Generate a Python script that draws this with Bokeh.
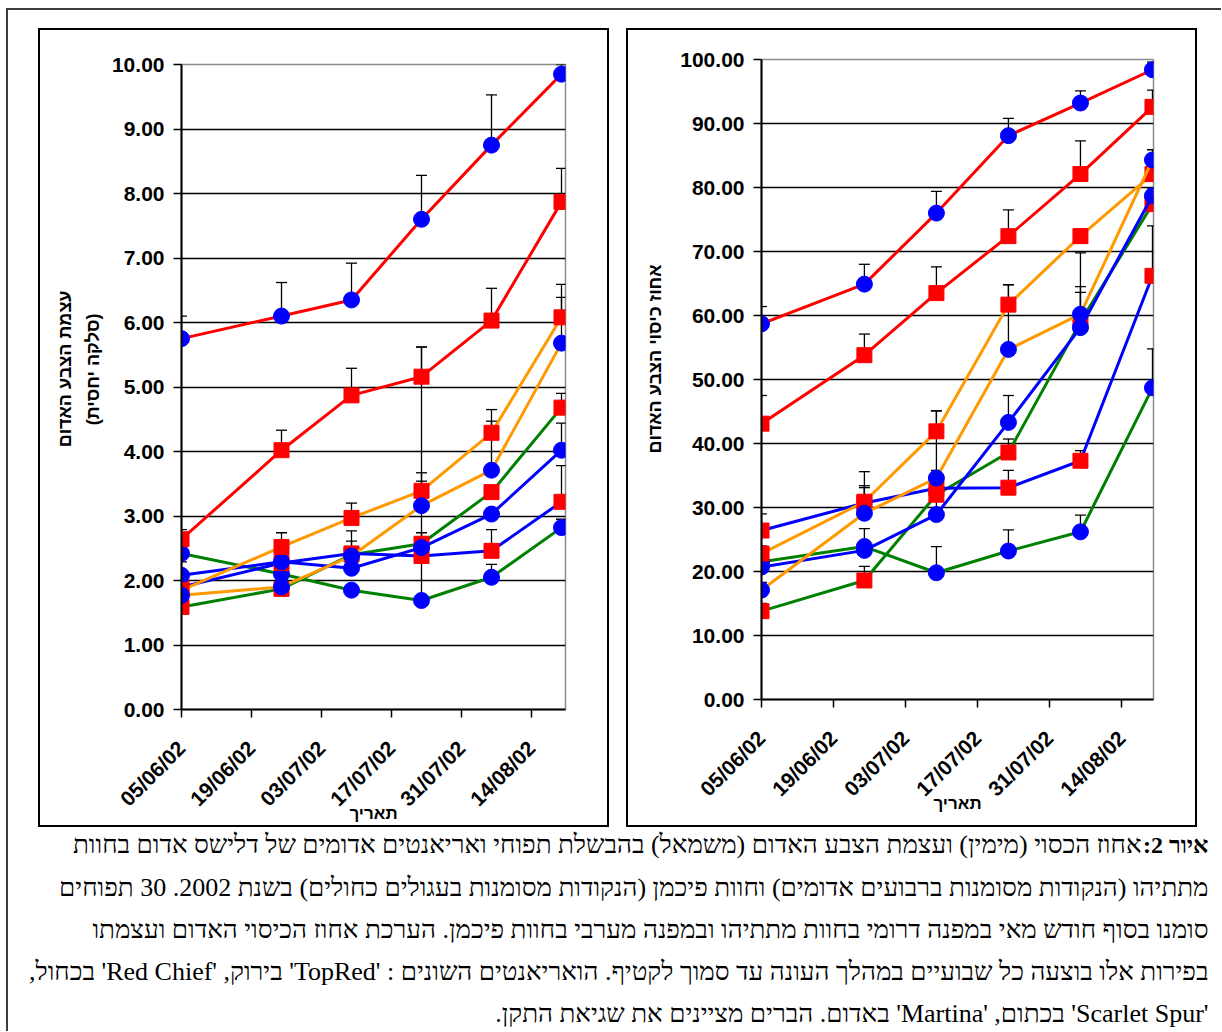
import math
from datetime import datetime, timedelta

from bokeh.plotting import figure
from bokeh.models import (Range1d, FixedTicker, PrintfTickFormatter, DatetimeTickFormatter,
                          Whisker, TeeHead, ColumnDataSource, Title)
from bokeh.layouts import column, row
from bokeh.embed import file_html
from bokeh.resources import INLINE
from bokeh.core.properties import value

# ---------------- data ----------------
sample_dates = ["2002-06-05", "2002-06-25", "2002-07-09", "2002-07-23", "2002-08-06", "2002-08-20"]
tick_dates = ["2002-06-05", "2002-06-19", "2002-07-03", "2002-07-17", "2002-07-31", "2002-08-14"]

variety_names = ["TopRed", "Red Chief", "Scarlet Spur", "Martina"]
variety_colors = ["#008000", "#0000FF", "#FF9900", "#FF0000"]
orchard_names = ["Matityahu", "Fichman"]
orchard_markers = ["square", "circle"]
orchard_marker_colors = ["#FF0000", "#0000FF"]

# red colour intensity (left chart), relative to beet
intensity_topred_matityahu = [1.59, 1.87, 2.40, 2.57, 3.37, 4.68]
intensity_topred_matityahu_se = [0.08, 0.08, 0.08, 0.17, 0.10, 0.22]
intensity_topred_fichman = [2.42, 2.10, 1.85, 1.69, 2.05, 2.82]
intensity_topred_fichman_se = [0.08, 0.08, 0.08, 3.93, 0.20, 0.13]
intensity_redchief_matityahu = [1.90, 2.27, 2.42, 2.38, 2.46, 3.22]
intensity_redchief_matityahu_se = [0.08, 0.08, 0.19, 0.08, 0.33, 0.56]
intensity_redchief_fichman = [2.08, 2.29, 2.19, 2.51, 3.03, 4.02]
intensity_redchief_fichman_se = [0.21, 0.08, 0.08, 0.09, 0.09, 0.42]
intensity_scarlet_matityahu = [1.85, 2.52, 2.97, 3.39, 4.29, 6.08]
intensity_scarlet_matityahu_se = [0.10, 0.22, 0.23, 0.28, 0.36, 0.51]
intensity_scarlet_fichman = [1.77, 1.90, 2.38, 3.16, 3.71, 5.68]
intensity_scarlet_fichman_se = [0.08, 0.08, 0.39, 0.38, 0.76, 0.71]
intensity_martina_matityahu = [2.64, 4.02, 4.87, 5.16, 6.03, 7.87]
intensity_martina_matityahu_se = [0.15, 0.31, 0.42, 0.46, 0.50, 0.52]
intensity_martina_fichman = [5.75, 6.10, 6.35, 7.60, 8.75, 9.85]
intensity_martina_fichman_se = [0.35, 0.52, 0.57, 0.68, 0.78, 0.15]

# red cover percentage (right chart)
cover_topred_matityahu = [13.8, 18.6, 32.0, 38.6, 59.0, 77.4]
cover_topred_matityahu_se = [1.2, 2.2, 1.2, 2.1, 4.6, 1.2]
cover_topred_fichman = [21.5, 23.9, 19.8, 23.2, 26.2, 48.7]
cover_topred_fichman_se = [2.0, 2.8, 4.1, 3.3, 2.6, 6.1]
cover_redchief_matityahu = [26.4, 30.7, 33.0, 33.1, 37.3, 66.2]
cover_redchief_matityahu_se = [2.6, 2.7, 1.2, 2.7, 1.6, 7.8]
cover_redchief_fichman = [20.7, 23.3, 28.9, 43.3, 58.1, 78.7]
cover_redchief_fichman_se = [1.3, 1.2, 16.2, 4.2, 6.4, 1.2]
cover_scarlet_matityahu = [22.8, 30.9, 41.9, 61.7, 72.4, 82.1]
cover_scarlet_matityahu_se = [1.2, 4.7, 3.2, 3.1, 1.1, 1.2]
cover_scarlet_fichman = [17.1, 29.1, 34.6, 54.7, 60.2, 84.3]
cover_scarlet_fichman_se = [1.2, 4.0, 1.2, 10.1, 9.6, 1.6]
cover_martina_matityahu = [43.1, 53.8, 63.5, 72.4, 82.1, 92.6]
cover_martina_matityahu_se = [4.4, 3.3, 4.1, 4.1, 5.2, 2.6]
cover_martina_fichman = [58.7, 64.9, 76.0, 88.1, 93.2, 98.4]
cover_martina_fichman_se = [2.7, 3.1, 3.4, 2.7, 1.9, 1.2]

intensity_ticks = [0, 1, 2, 3, 4, 5, 6, 7, 8, 9, 10]
cover_ticks = [0, 10, 20, 30, 40, 50, 60, 70, 80, 90, 100]

intensity_label_lines = ["עצמת הצבע האדום", "(סלקה יחסית)"]
cover_label_lines = ["אחוז כיסוי הצבע האדום"]
date_label = "תאריך"

caption_bold = "איור 2:"
caption_lines = [
    "אחוז הכסוי (מימין) ועצמת הצבע האדום (משמאל) בהבשלת תפוחי ואריאנטים אדומים של דלישס אדום בחוות",
    "מתתיהו (הנקודות מסומנות ברבועים אדומים) וחוות פיכמן (הנקודות מסומנות בעגולים כחולים) בשנת 2002. 30 תפוחים",
    "סומנו בסוף חודש מאי במפנה דרומי בחוות מתתיהו ובמפנה מערבי בחוות פיכמן. הערכת אחוז הכיסוי האדום ועצמתו",
    "בפירות אלו בוצעה כל שבועיים במהלך העונה עד סמוך לקטיף. הואריאנטים השונים : 'TopRed' בירוק, 'Red Chief' בכחול,",
    "'Scarlet Spur' בכתום, 'Martina' באדום. הברים מציינים את שגיאת התקן.",
]

intensity_series = [
    (0, 0, intensity_topred_matityahu, intensity_topred_matityahu_se),
    (0, 1, intensity_topred_fichman, intensity_topred_fichman_se),
    (1, 0, intensity_redchief_matityahu, intensity_redchief_matityahu_se),
    (1, 1, intensity_redchief_fichman, intensity_redchief_fichman_se),
    (2, 0, intensity_scarlet_matityahu, intensity_scarlet_matityahu_se),
    (2, 1, intensity_scarlet_fichman, intensity_scarlet_fichman_se),
    (3, 0, intensity_martina_matityahu, intensity_martina_matityahu_se),
    (3, 1, intensity_martina_fichman, intensity_martina_fichman_se),
]
cover_series = [
    (0, 0, cover_topred_matityahu, cover_topred_matityahu_se),
    (0, 1, cover_topred_fichman, cover_topred_fichman_se),
    (1, 0, cover_redchief_matityahu, cover_redchief_matityahu_se),
    (1, 1, cover_redchief_fichman, cover_redchief_fichman_se),
    (2, 0, cover_scarlet_matityahu, cover_scarlet_matityahu_se),
    (2, 1, cover_scarlet_fichman, cover_scarlet_fichman_se),
    (3, 0, cover_martina_matityahu, cover_martina_matityahu_se),
    (3, 1, cover_martina_fichman, cover_martina_fichman_se),
]

# ---------------- helpers ----------------
def to_dt(s):
    return datetime.strptime(s, "%Y-%m-%d")

def to_ms(d):
    return (d - datetime(1970, 1, 1)).total_seconds() * 1000.0

x_dates = [to_dt(s) for s in sample_dates]
x_ticks_ms = [to_ms(to_dt(s)) for s in tick_dates]
start_date = to_dt(sample_dates[0])

AXIS_FONT = "Liberation Sans"


def make_chart(series, yticks, ylabel_lines, ylabel_places, x_end_days, borders):
    left_b, right_b, top_b, bottom_b = borders
    p = figure(width=567, height=795,
               x_axis_type="datetime",
               x_range=Range1d(start=start_date, end=start_date + timedelta(days=x_end_days)),
               y_range=Range1d(yticks[0], yticks[-1]),
               toolbar_location=None, output_backend="svg",
               min_border_left=left_b, min_border_right=right_b,
               min_border_top=top_b, min_border_bottom=bottom_b,
               background_fill_color="white", border_fill_color="white",
               styles={"outline": "2px solid #000000", "outline-offset": "0px"})
    p.outline_line_color = "#8c8c8c"
    p.outline_line_width = 1.5

    p.xgrid.visible = False
    p.ygrid.grid_line_color = "black"
    p.ygrid.grid_line_width = 1.5
    p.ygrid.ticker = FixedTicker(ticks=yticks)

    # y axis
    p.yaxis.ticker = FixedTicker(ticks=yticks)
    p.yaxis.formatter = PrintfTickFormatter(format="%.2f")
    p.yaxis.major_label_text_font = AXIS_FONT
    p.yaxis.major_label_text_font_style = "bold"
    p.yaxis.major_label_text_font_size = "21px"
    p.yaxis.major_label_text_color = "black"
    p.yaxis.major_label_standoff = 9
    # vertical axis title lines, innermost (closest to the axis) added first
    for text, (offset, standoff) in reversed(list(zip(ylabel_lines, ylabel_places))):
        p.add_layout(Title(text=text, align="right", offset=offset, standoff=standoff,
                           text_font=AXIS_FONT, text_font_style="bold",
                           text_font_size="18px", text_color="black"), "left")

    # x axis
    p.xaxis.ticker = FixedTicker(ticks=x_ticks_ms)
    fmt_kwargs = dict(days="%d/%m/%y", months="%d/%m/%y", years="%d/%m/%y",
                      hours="%d/%m/%y", hourmin="%d/%m/%y")
    if "strip_leading_zeros" in DatetimeTickFormatter.properties():
        fmt_kwargs["strip_leading_zeros"] = False
    p.xaxis.formatter = DatetimeTickFormatter(**fmt_kwargs)
    p.xaxis.major_label_orientation = math.pi / 4
    p.xaxis.major_label_text_font = AXIS_FONT
    p.xaxis.major_label_text_font_style = "bold"
    p.xaxis.major_label_text_font_size = "21px"
    p.xaxis.major_label_text_color = "black"
    p.xaxis.major_label_standoff = 27
    p.xaxis.axis_label = date_label
    p.xaxis.axis_label_text_font = AXIS_FONT
    p.xaxis.axis_label_text_font_style = "bold"
    p.xaxis.axis_label_text_font_size = "17px"
    p.xaxis.axis_label_text_color = "black"
    p.xaxis.axis_label_standoff = -18

    for ax in (p.xaxis, p.yaxis):
        ax.axis_line_color = "black"
        ax.axis_line_width = 2
        ax.major_tick_line_color = "black"
        ax.major_tick_line_width = 1.5
        ax.major_tick_out = 8
        ax.major_tick_in = 0
        ax.minor_tick_out = 0
        ax.minor_tick_in = 0

    for vi, oi, ys, se in series:
        src = ColumnDataSource(dict(x=x_dates, y=ys,
                                    upper=[a + b for a, b in zip(ys, se)]))
        p.add_layout(Whisker(source=src, base="x", lower="y", upper="upper",
                             line_color="black", line_width=1.3,
                             upper_head=TeeHead(size=11, line_color="black", line_width=1.3),
                             lower_head=None))
    for vi, oi, ys, se in series:
        src = ColumnDataSource(dict(x=x_dates, y=ys))
        p.line("x", "y", source=src, line_color=variety_colors[vi], line_width=3)
        p.scatter("x", "y", source=src, marker=orchard_markers[oi],
                  size=16 if orchard_markers[oi] == "circle" else 15,
                  fill_color=orchard_marker_colors[oi], line_color=orchard_marker_colors[oi])
    return p


left = make_chart(intensity_series, intensity_ticks, intensity_label_lines,
                  [(226, 0), (249, 12)], 76.8, (141, 42, 34, 116))
right = make_chart(cover_series, cover_ticks, cover_label_lines,
                   [(205, 25)], 76.2, (133, 42, 29, 126))

left_box = column(left, margin=(20, 0, 2, 32))
right_box = column(right, margin=(20, 0, 2, 21))

# ---------------- caption ----------------
CAP_W, CAP_H = 1213, 204
cap = figure(width=CAP_W, height=CAP_H, x_range=Range1d(0, CAP_W), y_range=Range1d(CAP_H, 0),
             toolbar_location=None, output_backend="svg", min_border=0,
             x_axis_location=None, y_axis_location=None,
             background_fill_color="white", border_fill_color="white")
cap.outline_line_color = None
cap.grid.visible = False

RLE, PDF = "\u202b", "\u202c"
line_y = [17, 60, 102, 144, 186]
cap_right = 1200
rest_right = 1133
cap.text(x=[cap_right], y=[line_y[0]], text=[RLE + caption_bold + PDF],
         text_font=value("Liberation Serif"), text_font_style="bold",
         text_font_size="24px", text_color="black",
         text_align="right", text_baseline="middle")
xs = [rest_right] + [cap_right] * 4
cap.text(x=xs, y=line_y, text=[RLE + s + PDF for s in caption_lines],
         text_font=value("Liberation Serif"), text_font_size="26px", text_color="black",
         text_align="right", text_baseline="middle")

charts = row(left_box, right_box)
root = column(charts, cap,
              styles={"border-top": "2px solid #3c3c3c", "border-left": "2px solid #3c3c3c",
                      "margin-left": "6px", "margin-top": "8px"})

open("out.html", "w").write(file_html(root, INLINE))
